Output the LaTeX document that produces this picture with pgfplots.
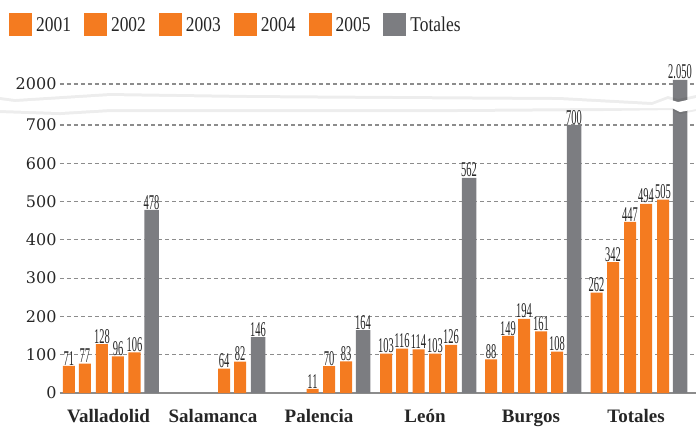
\documentclass[border=0pt]{standalone}
\usepackage{fontspec}
\setmainfont{Liberation Serif}
\newfontfamily\tickfont{DejaVu Serif}
\newfontfamily\condfont[FakeStretch=0.5]{Liberation Serif}
\newfontfamily\legfont[FakeStretch=0.83]{Liberation Serif}
\usepackage{pgfplots}
\pgfplotsset{compat=1.18}

\definecolor{naranja}{HTML}{F47B20}
\definecolor{gris}{HTML}{7C7D81}
\definecolor{rejilla}{HTML}{8C8C8C}
\definecolor{texto}{HTML}{262626}

\pgfplotsset{
  legnar/.style={legend image code/.code={\fill[naranja] (0pt,-11pt) rectangle (23pt,12pt);}},
  leggris/.style={legend image code/.code={\fill[gris] (0pt,-11pt) rectangle (23pt,12pt);}},
  barra/.style={ybar, bar width=12pt, bar shift=0pt, draw=none, fill=naranja, legnar},
}

\begin{document}
\begin{tikzpicture}
\begin{axis}[
  scale only axis, width=636pt, height=325.5pt,
  xmin=60, xmax=696, ymin=0, ymax=850,
  axis x line*=bottom, axis y line*=left,
  y axis line style={draw=none},
  x axis line style={rejilla, line width=2pt},
  tick style={draw=none}, major tick length=0pt,
  xtick={108.5,213,319,425,531,636},
  xticklabels={Valladolid,Salamanca,Palencia,León,Burgos,Totales},
  xticklabel style={font=\fontsize{19}{19}\selectfont\bfseries, text=texto, anchor=base, yshift=-29pt},
  ytick={0,100,200,300,400,500,600,700,807},
  yticklabels={0,100,200,300,400,500,600,700,2000},
  yticklabel style={font=\fontsize{16}{16}\selectfont\tickfont, text=texto},
  ymajorgrids,
  grid style={rejilla, dash pattern=on 4pt off 3pt, line width=1.2pt},
  clip=false,
  legend columns=6,
  legend style={at={(-0.0802,1.1675)}, anchor=north west, draw=none, fill=none,
    inner sep=0pt, font=\fontsize{21}{21}\selectfont\legfont, text=texto,
    /tikz/every even column/.append style={column sep=11pt},
    /tikz/every odd column/.append style={column sep=2pt}},
  nodes near coords, point meta=explicit symbolic,
  every node near coord/.append style={font=\fontsize{21}{21}\selectfont\condfont, text=texto, inner sep=0.5pt},
]
% 2001
\addplot[barra] coordinates {(69,71)[71] (386,103)[103] (491,88)[88] (596.5,262)[262]};
\addlegendentry{2001}
% 2002
\addplot[barra] coordinates {(85,77)[77] (402,116)[116] (508,149)[149] (613,342)[342]};
\addlegendentry{2002}
% 2003
\addplot[barra] coordinates {(102,128)[128] (312.5,11)[11] (418.5,114)[114] (524,194)[194] (630,447)[447]};
\addlegendentry{2003}
% 2004
\addplot[barra] coordinates {(118,96)[96] (224,64)[64] (329,70)[70] (435,103)[103] (541,161)[161] (646,494)[494]};
\addlegendentry{2004}
% 2005
\addplot[barra] coordinates {(134.5,106)[106] (240,82)[82] (346,83)[83] (451,126)[126] (557,108)[108] (663,505)[505]};
\addlegendentry{2005}
% Totales (2.050 dibujado sobre la escala cortada)
\addplot[ybar, bar width=14.5pt, bar shift=0pt, draw=none, fill=gris, leggris]
  coordinates {(151.5,478)[478] (258,146)[146] (363,164)[164] (469,562)[562] (574,700)[700] (680,817.5)[2.050]};
\addlegendentry{Totales}

\coordinate (bl) at (axis cs:0,-86.2);
\coordinate (tr) at (axis cs:696,1026.4);
\end{axis}

% corte de la escala
\begin{scope}[shift={(bl)}, x=1pt, y=1pt]
  \fill[black, opacity=0.07] (0,329) -- (15,327) -- (110,333) -- (250,331) -- (400,330) -- (560,329)
    -- (652,324) -- (668,330) -- (678,327) -- (696,331) -- (696,315) -- (680,312) -- (672,316)
    -- (600,315) -- (450,314) -- (300,314) -- (110,314) -- (60,311) -- (0,313) -- cycle;
  \fill[white] (0,326) -- (15,324) -- (110,330) -- (250,328) -- (400,327) -- (560,326)
    -- (652,321) -- (668,327) -- (678,324) -- (696,328) -- (696,317) -- (680,314) -- (672,318)
    -- (600,318) -- (450,317) -- (300,317) -- (110,317) -- (60,314) -- (0,316) -- cycle;
\end{scope}

\pgfresetboundingbox
\path[use as bounding box] (bl) rectangle (tr);
\end{tikzpicture}
\end{document}
